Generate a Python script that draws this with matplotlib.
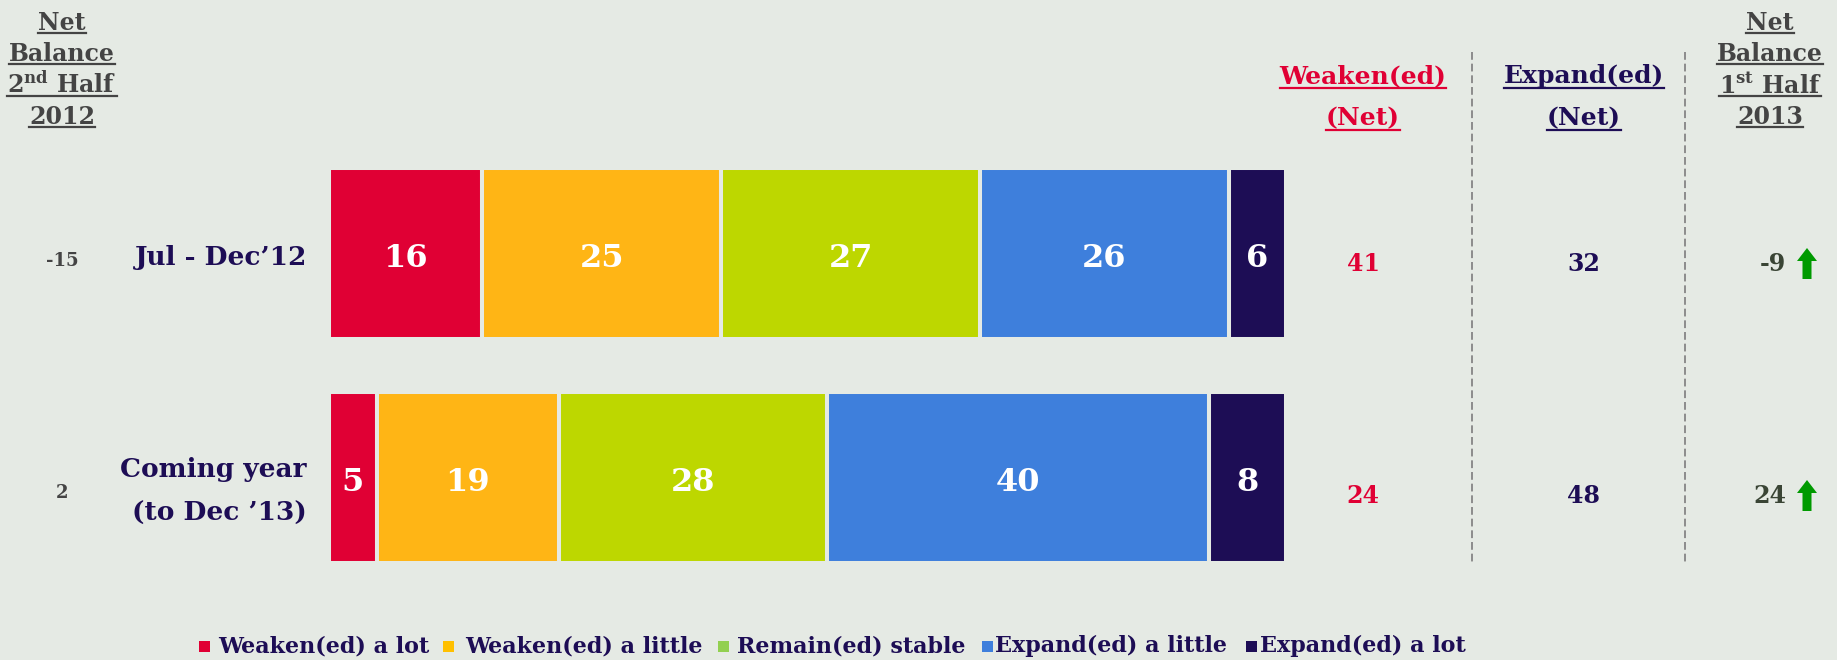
import matplotlib
matplotlib.use("Agg")
import matplotlib.pyplot as plt
from matplotlib.patches import Rectangle, Polygon
from matplotlib.lines import Line2D
import numpy as np

# ---------------- data ----------------
categories = ["Jul - Dec\u201912", "Coming year\n(to Dec \u201913)"]
series_names = ["Weaken(ed) a lot", "Weaken(ed) a little", "Remain(ed) stable",
                "Expand(ed) a little", "Expand(ed) a lot"]
weaken_lot = [16, 5]
weaken_little = [25, 19]
remain_stable = [27, 28]
expand_little = [26, 40]
expand_lot = [6, 8]
weaken_net = [41, 24]
expand_net = [32, 48]
net_balance_2h2012 = [-15, 2]
net_balance_1h2013 = [-9, 24]

# ---------------- style ----------------
W, H = 1837, 660
BG = "#E5EAE4"
bar_colors = ["#E00034", "#FFB515", "#BDD700", "#3E7FDC", "#1D0D55"]
legend_colors = ["#E00034", "#FFC000", "#92D050", "#3E7FDC", "#1D0D55"]
NAVY = "#1D0D55"
RED = "#E00034"
GREY = "#444444"
DKGREEN = "#3A4535"
ARROW = "#009A00"

plt.rcParams['font.family'] = ['DejaVu Serif']
plt.rcParams['font.weight'] = 'bold'
plt.rcParams['mathtext.fontset'] = 'custom'
plt.rcParams['mathtext.rm'] = 'DejaVu Serif:bold'
plt.rcParams['mathtext.bf'] = 'DejaVu Serif:bold'
plt.rcParams['mathtext.it'] = 'DejaVu Serif:bold'

fig = plt.figure(figsize=(W / 100, H / 100), dpi=100, facecolor=BG)


def fx(px):
    return px / W


def fy(py):
    return 1 - py / H


def ftext(px, py, s, **kw):
    return fig.text(fx(px), fy(py), s, **kw)


# ---------------- bars ----------------
ax = fig.add_axes([fx(329), (H - 589.5) / H, 957 / W, 448 / H])
ax.set_facecolor(BG)
ax.set_xlim(0, 100)
ax.set_ylim(1.5, -0.5)
ax.axis("off")

series = [weaken_lot, weaken_little, remain_stable, expand_little, expand_lot]
ypos = np.arange(len(categories))
left = np.zeros(len(categories))
for vals, col in zip(series, bar_colors):
    vals = np.array(vals, dtype=float)
    ax.barh(ypos, vals, left=left, height=0.765, color=col,
            edgecolor=BG, linewidth=2.9)
    for i, v in enumerate(vals):
        ax.text(left[i] + v / 2, ypos[i] + 0.006, f"{int(v)}", ha="center",
                va="center_baseline", color="white", fontsize=23,
                fontweight="bold")
    left += vals

# ---------------- headers ----------------
underline_jobs = []


def header(px, lines, baselines, color, size=17, gap=3):
    for s, b in zip(lines, baselines):
        t = ftext(px, b, s, ha="center", va="baseline", color=color,
                  fontsize=size, fontweight="bold")
        underline_jobs.append((t, b + gap, color))


header(62, ["Net", "Balance", "2$^{\\mathrm{nd}}$ Half", "2012"],
       [30, 61, 93, 124], GREY)
header(1770, ["Net", "Balance", "1$^{\\mathrm{st}}$ Half", "2013"],
       [30, 61, 93, 124], GREY)
header(1363, ["Weaken(ed)", "(Net)"], [83, 125], RED, size=18, gap=5)
header(1584, ["Expand(ed)", "(Net)"], [83, 125], NAVY, size=18, gap=5)

# ---------------- row texts ----------------
row_y = [257, 490]
for i, cat in enumerate(categories):
    lines = cat.split("\n")
    if len(lines) == 1:
        ftext(307, row_y[i], lines[0], ha="right", va="center", color=NAVY,
              fontsize=19, fontweight="bold")
    else:
        ftext(307, row_y[i] - 20, lines[0], ha="right", va="center",
              color=NAVY, fontsize=19, fontweight="bold")
        ftext(307, row_y[i] + 23, lines[1], ha="right", va="center",
              color=NAVY, fontsize=19, fontweight="bold")

num_y = [264, 496]
for i in range(len(categories)):
    ftext(62, num_y[i] - 3, f"{net_balance_2h2012[i]}", ha="center",
          va="center", color=GREY, fontsize=13, fontweight="bold")
    ftext(1363, num_y[i], f"{weaken_net[i]}", ha="center", va="center",
          color=RED, fontsize=17, fontweight="bold")
    ftext(1584, num_y[i], f"{expand_net[i]}", ha="center", va="center",
          color=NAVY, fontsize=17, fontweight="bold")
    ftext(1786, num_y[i], f"{net_balance_1h2013[i]}", ha="right",
          va="center", color=DKGREEN, fontsize=17, fontweight="bold")
    # green up arrow
    cx = 1807
    yt = num_y[i] - 16
    yb = num_y[i] + 15
    pts = [(cx - 4.5, yb), (cx + 4.5, yb), (cx + 4.5, yt + 13),
           (cx + 10, yt + 13), (cx, yt), (cx - 10, yt + 13),
           (cx - 4.5, yt + 13)]
    fig.patches.append(Polygon([(fx(a), fy(b)) for a, b in pts], closed=True,
                               transform=fig.transFigure, facecolor=ARROW,
                               edgecolor="none"))

# dashed separators
for xs in (1472, 1685):
    fig.add_artist(Line2D([fx(xs), fx(xs)], [fy(52), fy(562)],
                          transform=fig.transFigure, color="#8C8C8C",
                          lw=1.4, linestyle=(0, (4, 2))))

# ---------------- legend ----------------
leg_sq = [199, 443, 718, 982, 1246]
leg_tx = [218, 465, 737, 995, 1260]
leg_y = 646
for name, col, sx, tx in zip(series_names, legend_colors, leg_sq, leg_tx):
    fig.patches.append(Rectangle((fx(sx), fy(leg_y + 6)), 11 / W, 11 / H,
                                 transform=fig.transFigure, facecolor=col,
                                 edgecolor="none"))
    ftext(tx, leg_y, name, ha="left", va="center", color=NAVY, fontsize=16,
          fontweight="bold")

# ---------------- underlines ----------------
fig.canvas.draw()
r = fig.canvas.get_renderer()
for t, uy, col in underline_jobs:
    bb = t.get_window_extent(r)
    fig.add_artist(Line2D([bb.x0 / W, bb.x1 / W], [fy(uy), fy(uy)],
                          transform=fig.transFigure, color=col, lw=1.6))

fig.savefig("out.png", dpi=100, facecolor=BG)
